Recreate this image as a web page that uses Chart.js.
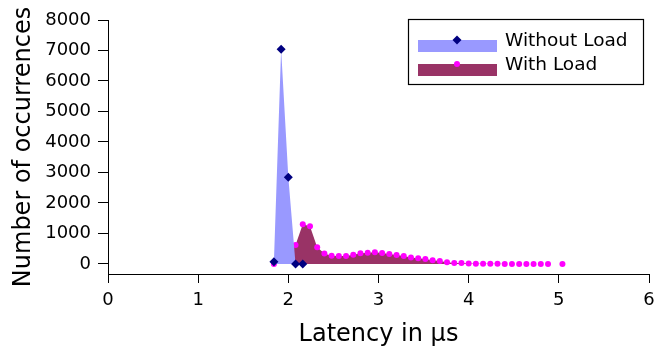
<!DOCTYPE html>
<html>
<head>
<meta charset="utf-8">
<script src="https://cdn.jsdelivr.net/npm/chart.js@4"></script>
<style>
  body { margin: 0; background: #fff; }
  canvas { display: block; }
</style>
</head>
<body>
<canvas id="latencyChart" width="654" height="349"></canvas>
<script>
// latency histogram values
var withoutLoadX = [1.84, 1.92, 2.00, 2.08, 2.16];
var withoutLoadY = [75, 7040, 2840, 0, 0];

var withLoadX = [1.84, 1.92, 2.00, 2.08, 2.16, 2.24, 2.32, 2.40, 2.48, 2.56,
    2.64, 2.72, 2.80, 2.88, 2.96, 3.04, 3.12, 3.20, 3.28, 3.36,
    3.44, 3.52, 3.60, 3.68, 3.76, 3.84, 3.92, 4.00, 4.08, 4.16,
    4.24, 4.32, 4.40, 4.48, 4.56, 4.64, 4.72, 4.80, 4.88, 5.04];
var withLoadY = [0, 590, 295, 620, 1300, 1235, 547, 345, 265, 262,
    262, 300, 350, 365, 383, 360, 330, 295, 258, 212,
    187, 164, 120, 98, 55, 33, 30, 12, 8, 5,
    4, 3, 2, 2, 1, 1, 1, 0, 0, 0];

var yTicks = [0, 1000, 2000, 3000, 4000, 5000, 6000, 7000, 8000];
var xTicks = [0, 1, 2, 3, 4, 5, 6];

function toPoints(xs, ys) {
    return xs.map(function (x, i) { return { x: x, y: ys[i] }; });
}

// gnuplot style key box in the top right corner
var keyBox = {
    id: 'keyBox',
    afterDraw: function (chart) {
        var c = chart.ctx;
        var rows = [
            { ds: chart.data.datasets[0], patchTop: 40, textY: 46 },
            { ds: chart.data.datasets[1], patchTop: 64, textY: 70 }
        ];
        c.save();
        c.strokeStyle = '#000';
        c.lineWidth = 1.2;
        c.strokeRect(408.5, 19.5, 235, 65);
        rows.forEach(function (r) {
            c.fillStyle = r.ds.backgroundColor;
            c.fillRect(418, r.patchTop, 79, 12);
            var mx = 457, my = r.patchTop, rad = r.ds.pointRadius;
            c.fillStyle = r.ds.pointBackgroundColor;
            c.beginPath();
            if (r.ds.pointStyle === 'rectRot') {
                c.moveTo(mx, my - rad); c.lineTo(mx + rad, my);
                c.lineTo(mx, my + rad); c.lineTo(mx - rad, my);
                c.closePath();
            } else {
                c.arc(mx, my, rad, 0, Math.PI * 2);
            }
            c.fill();
            c.fillStyle = '#000';
            c.font = '18.5px "DejaVu Sans"';
            c.textAlign = 'left';
            c.textBaseline = 'alphabetic';
            c.fillText(r.ds.label, 505, r.textY);
        });
        c.restore();
    }
};

var ctx = document.getElementById('latencyChart').getContext('2d');
var latencyChart = new Chart(ctx, {
    type: 'line',
    data: {
        datasets: [{
            label: 'Without Load',
            data: toPoints(withoutLoadX, withoutLoadY),
            backgroundColor: '#9999ff',
            borderWidth: 0,
            borderColor: 'rgba(0,0,0,0)',
            fill: 'origin',
            tension: 0,
            pointStyle: 'rectRot',
            pointRadius: 4.5,
            pointBackgroundColor: '#000080',
            pointBorderWidth: 0
        }, {
            label: 'With Load',
            data: toPoints(withLoadX, withLoadY),
            backgroundColor: '#993366',
            borderWidth: 0,
            borderColor: 'rgba(0,0,0,0)',
            fill: 'origin',
            tension: 0,
            pointStyle: 'circle',
            pointRadius: 3,
            pointBackgroundColor: '#ff00ff',
            pointBorderWidth: 0
        }]
    },
    options: {
        responsive: false,
        animation: false,
        layout: { padding: { top: 20, right: 5, left: 0, bottom: 0 } },
        font: { family: '"DejaVu Sans"' },
        plugins: {
            legend: { display: false },
            tooltip: { enabled: false }
        },
        scales: {
            x: {
                type: 'linear',
                min: 0,
                max: 6,
                afterBuildTicks: function (s) { s.ticks = xTicks.map(function (v) { return { value: v }; }); },
                afterFit: function (s) { s.height = 75; s.paddingRight = 5; },
                ticks: {
                    color: '#000', font: { family: '"DejaVu Sans"', size: 18 }, padding: 7,
                    callback: function (v) { return String(v); }
                },
                grid: { drawOnChartArea: false, color: '#000', tickLength: 9 },
                border: { color: '#000', width: 1 },
                title: {
                    display: true,
                    text: 'Latency in µs',
                    color: '#000',
                    font: { family: '"DejaVu Sans"', size: 24 },
                    padding: { top: 0, bottom: 0 }
                }
            },
            y: {
                min: -330,
                max: 8000,
                afterBuildTicks: function (s) { s.ticks = yTicks.map(function (v) { return { value: v }; }); },
                afterFit: function (s) { s.width = 108; },
                ticks: {
                    color: '#000', font: { family: '"DejaVu Sans"', size: 18 }, padding: 7,
                    callback: function (v) { return String(v); }
                },
                grid: { drawOnChartArea: false, color: '#000', tickLength: 10 },
                border: { color: '#000', width: 1 },
                title: {
                    display: true,
                    text: 'Number of occurrences',
                    color: '#000',
                    font: { family: '"DejaVu Sans"', size: 24 },
                    padding: { top: 9, bottom: 0 }
                }
            }
        }
    },
    plugins: [keyBox]
});
</script>
</body>
</html>
